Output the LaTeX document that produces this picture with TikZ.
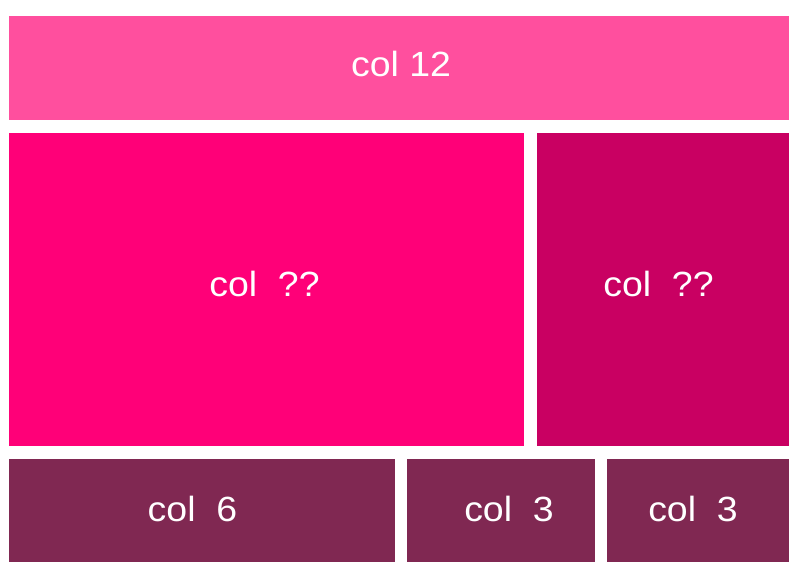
\documentclass[tikz,border=0pt]{standalone}
\usepackage{fontspec}
\setmainfont{Liberation Sans}[FakeStretch=1.07]
\definecolor{cTop}{RGB}{255,79,158}
\definecolor{cMidL}{RGB}{255,0,120}
\definecolor{cMidR}{RGB}{201,0,98}
\definecolor{cBot}{RGB}{128,40,82}
\tikzset{
  lbl/.style={text=white, anchor=base, inner sep=0pt, font=\fontsize{35}{40}\selectfont}
}
\begin{document}
\begin{tikzpicture}[x=1pt,y=-1pt]
\useasboundingbox[fill=white] (0,0) rectangle (800,586);
\fill[cTop] (9,16) rectangle (789,120);
\fill[cMidL] (9,133) rectangle (524,446);
\fill[cMidR] (537,133) rectangle (789,446);
\fill[cBot] (9,459) rectangle (395,562);
\fill[cBot] (407,459) rectangle (595,562);
\fill[cBot] (607,459) rectangle (789,562);
\node[lbl] (t1) at (401,77) {col 12};
\node[lbl] (t2) at (264.5,296) {col\ \ ??};
\node[lbl] (t3) at (658.5,296) {col\ \ ??};
\node[lbl] (t4) at (192.5,521) {col\ \ 6};
\node[lbl] (t5) at (509,521) {col\ \ 3};
\node[lbl] (t6) at (693,521) {col\ \ 3};
\end{tikzpicture}
\end{document}
